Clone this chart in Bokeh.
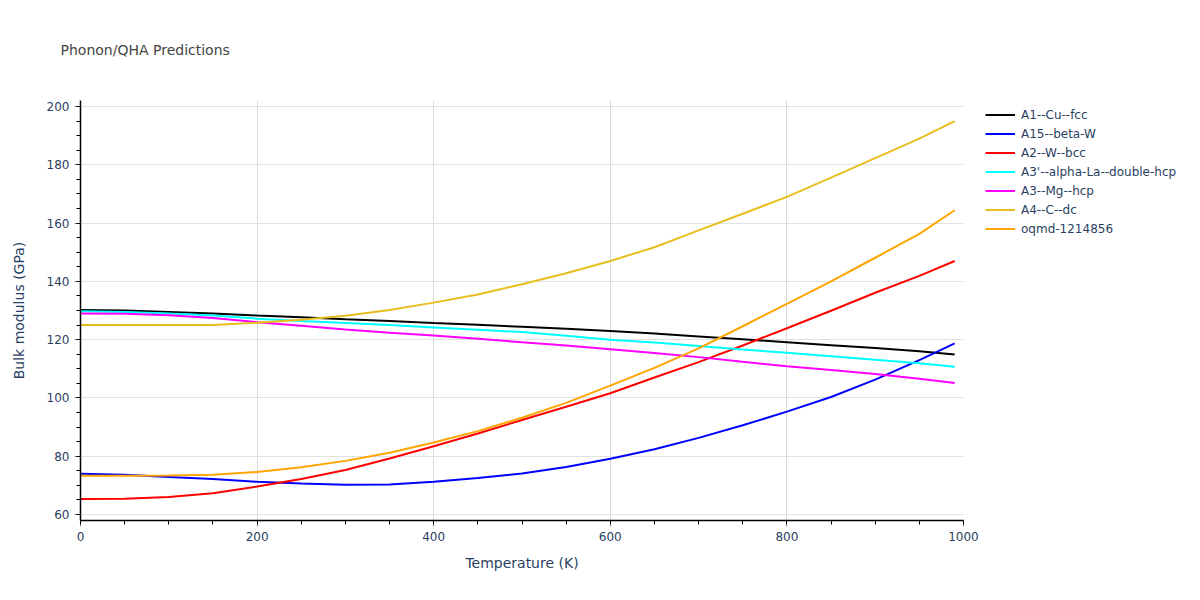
from bokeh.plotting import figure
from bokeh.models import Legend, LegendItem, Range1d, FixedTicker
from bokeh.embed import file_html
from bokeh.resources import INLINE

temperature = [0, 50, 100, 150, 200, 250, 300, 350, 400, 450, 500, 550, 600, 650, 700, 750, 800, 850, 900, 950, 990]
a1_cu_fcc = [130.2, 130.0, 129.5, 129.0, 128.3, 127.7, 127.0, 126.4, 125.7, 125.1, 124.4, 123.7, 123.0, 122.1, 121.1, 120.1, 119.1, 118.1, 117.1, 116.0, 114.9]
a15_beta_w = [74.0, 73.6, 72.9, 72.2, 71.2, 70.6, 70.2, 70.3, 71.2, 72.5, 74.1, 76.3, 79.1, 82.4, 86.3, 90.6, 95.3, 100.3, 106.3, 113.0, 118.7]
a2_w_bcc = [65.3, 65.4, 66.0, 67.3, 69.6, 72.2, 75.3, 79.2, 83.4, 87.8, 92.4, 97.0, 101.6, 107.0, 112.3, 118.0, 123.9, 129.9, 136.1, 141.9, 147.0]
a3p_alpha_la = [129.7, 129.5, 129.0, 128.3, 127.2, 126.4, 125.7, 125.0, 124.2, 123.4, 122.6, 121.3, 120.0, 119.0, 117.8, 116.6, 115.5, 114.3, 113.1, 111.9, 110.7]
a3_mg_hcp = [129.0, 128.9, 128.4, 127.4, 126.0, 124.8, 123.5, 122.4, 121.4, 120.3, 119.1, 118.0, 116.7, 115.4, 114.0, 112.4, 110.9, 109.6, 108.2, 106.6, 105.1]
a4_c_dc = [125.0, 125.0, 125.0, 125.0, 125.8, 126.8, 128.2, 130.2, 132.7, 135.5, 139.0, 142.8, 147.0, 151.7, 157.5, 163.2, 169.0, 175.6, 182.3, 189.0, 195.0]
oqmd_1214856 = [73.3, 73.3, 73.4, 73.6, 74.6, 76.2, 78.4, 81.2, 84.7, 88.6, 93.2, 98.3, 104.2, 110.3, 117.0, 124.6, 132.3, 140.0, 148.1, 156.3, 164.4]

series_names = ["A1--Cu--fcc", "A15--beta-W", "A2--W--bcc", "A3'--alpha-La--double-hcp", "A3--Mg--hcp", "A4--C--dc", "oqmd-1214856"]
series_values = [a1_cu_fcc, a15_beta_w, a2_w_bcc, a3p_alpha_la, a3_mg_hcp, a4_c_dc, oqmd_1214856]
series_colors = ["black", "blue", "red", "cyan", "magenta", "#e8be1e", "orange"]

FONT = "DejaVu Sans"
TXT = "#2a3f5f"

p = figure(frame_width=883, frame_height=420, output_backend="svg", toolbar_location=None,
           x_range=Range1d(0, 1000), y_range=Range1d(57.94, 202.06),
           min_border_left=80, min_border_right=0, min_border_top=100, min_border_bottom=72,
           title="Phonon/QHA Predictions")
p.outline_line_color = None
p.background_fill_color = "white"
p.title.text_font = FONT
p.title.text_font_size = "14px"
p.title.text_font_style = "normal"
p.title.text_color = "#444444"
p.title.offset = -20
p.title.standoff = 82
p.title.vertical_align = "top"

items = []
for name, vals, col in zip(series_names, series_values, series_colors):
    r = p.line(temperature, vals, line_color=col, line_width=2)
    items.append(LegendItem(label=name, renderers=[r]))

legend = Legend(items=items, location=(22, 282), padding=0, spacing=0,
                label_height=19, glyph_height=19, glyph_width=30, label_standoff=6,
                label_text_font=FONT, label_text_font_size="12px", label_text_color=TXT,
                border_line_alpha=0, background_fill_alpha=0, margin=0)
p.add_layout(legend, "right")

# axes
p.xaxis.ticker = FixedTicker(ticks=[0, 200, 400, 600, 800, 1000], minor_ticks=list(range(0, 1001, 50)))
p.yaxis.ticker = FixedTicker(ticks=list(range(60, 201, 20)), minor_ticks=list(range(60, 201, 5)))
for ax in (p.xaxis[0], p.yaxis[0]):
    ax.axis_line_color = "black"
    ax.axis_line_width = 1.5
    ax.major_tick_line_color = "#888888"
    ax.major_tick_out = 6
    ax.major_tick_in = 0
    ax.minor_tick_line_color = "black"
    ax.minor_tick_out = 4
    ax.minor_tick_in = 0
    ax.major_label_text_font = FONT
    ax.major_label_text_font_size = "12px"
    ax.major_label_text_color = TXT
    ax.axis_label_text_font = FONT
    ax.axis_label_text_font_size = "14px"
    ax.axis_label_text_font_style = "normal"
    ax.axis_label_text_color = TXT
p.xaxis.axis_label = "Temperature (K)"
p.yaxis.axis_label = "Bulk modulus (GPa)"
p.xaxis.major_label_standoff = 5
p.yaxis.major_label_standoff = 5
p.xaxis.axis_label_standoff = 11
p.yaxis.axis_label_standoff = 17

p.xgrid.grid_line_color = "#d9d9d9"
p.ygrid.grid_line_color = "#e2e2e2"
p.xgrid.grid_line_width = 1
p.ygrid.grid_line_width = 1

open("out.html", "w").write(file_html(p, INLINE))
